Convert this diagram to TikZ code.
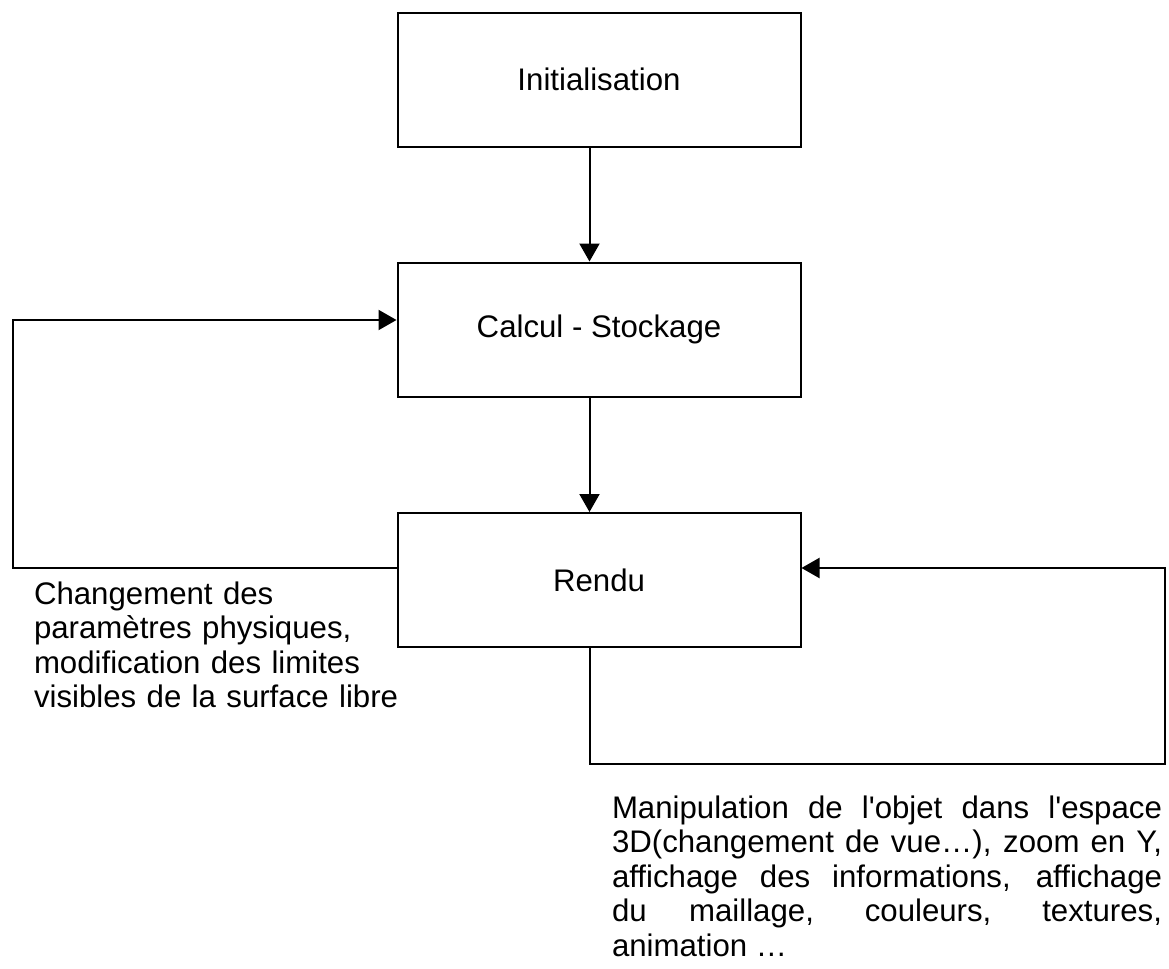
\documentclass[tikz,border=0pt]{standalone}
\usepackage{fontspec}
\setmainfont{Liberation Sans}[Ligatures=TeXOff]
\usetikzlibrary{arrows.meta}

\begin{document}
\begin{tikzpicture}[x=0.5pt, y=-0.5pt, line width=1pt,
		box/.style={draw, rectangle, minimum width=201.5pt, minimum height=67pt, font=\fontsize{15.6}{17.25}\selectfont},
		arr/.style={-{Triangle[length=9pt, width=10pt]}},
		note/.style={inner sep=0pt, anchor=base west, font=\fontsize{15.6}{17.25}\selectfont}]
		\useasboundingbox (0,0) rectangle (1169,969);

		% Boxes
		\node[box] (init) at (599, 79.7) {Initialisation};
		\node[box] (calc) at (599, 329.5) {Calcul - Stockage};
		\node[box] (rendu) at (599, 580) {Rendu};

		% Corners of the loops
		\coordinate (axis) at (589.5, 0);
		\coordinate (lft) at (13, 320);
		\coordinate (lfb) at (13, 568);
		\coordinate (rtt) at (1165, 568);
		\coordinate (rtb) at (1165, 764);

		\draw[arr] (init.south -| axis) -- (calc.north -| axis);
		\draw[arr] (calc.south -| axis) -- (rendu.north -| axis);

		% Loop back to the computation
		\draw[arr] (rendu.west |- lfb) -- (lfb) -- (lft) -- (calc.west |- lft);

		% Loop back to the rendering
		\draw[arr] (rendu.south -| axis) -- (axis |- rtb) -- (rtb) -- (rtt) -- (rendu.east |- rtt);

		% Notes
		\node[note, text width=190pt, align=left] (physique) at (33, 604) {Changement des\\ paramètres physiques,\\ modification des limites\\ visibles de la surface libre};
		\node[note, text width=275pt, align=justify] (vue) at (611, 818) {Manipulation de l'objet dans l'espace\linebreak 3D(changement de vue…), zoom en Y,\linebreak affichage des informations, affichage\linebreak du maillage, couleurs, textures,\linebreak animation …};

	\end{tikzpicture}
\end{document}
